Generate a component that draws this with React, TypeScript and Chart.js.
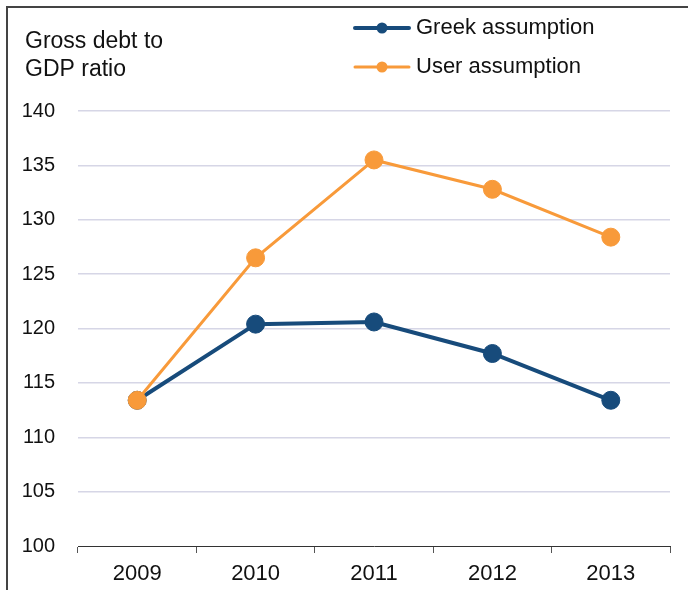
import React, { useEffect, useRef } from "react";
import { Chart, registerables } from "chart.js";

Chart.register(...registerables);

const years = ["2009", "2010", "2011", "2012", "2013"];
const greekAssumption = [113.4, 120.4, 120.6, 117.7, 113.4];
const userAssumption = [113.4, 126.5, 135.5, 132.8, 128.4];
const seriesNames = ["Greek assumption", "User assumption"];
const titleLines = ["Gross debt to", "GDP ratio"];
const yMin = 100;
const yMax = 140;
const yStep = 5;

const FONT = "'Liberation Sans', Arial, Helvetica, sans-serif";
const BLUE = "#174b7b";
const ORANGE = "#f89a3a";

const overlayPlugin = {
  id: "overlay",
  afterDraw(chart: any) {
    const ctx = chart.ctx as CanvasRenderingContext2D;
    ctx.save();
    // frame (top and left edges)
    ctx.strokeStyle = "#444444";
    ctx.lineWidth = 2;
    ctx.beginPath();
    ctx.moveTo(7, 590);
    ctx.lineTo(7, 7);
    ctx.lineTo(688, 7);
    ctx.stroke();

    // title
    ctx.fillStyle = "#111111";
    ctx.font = `23px ${FONT}`;
    ctx.textBaseline = "middle";
    ctx.textAlign = "left";
    titleLines.forEach((t, i) => ctx.fillText(t, 25, 42 + i * 28));

    // legend
    ctx.font = `22px ${FONT}`;
    const rowsY = [28, 67];
    chart.data.datasets.forEach((ds: any) => {
      const idx = seriesNames.indexOf(ds.label);
      const y = rowsY[idx];
      ctx.strokeStyle = ds.borderColor;
      ctx.lineWidth = ds.borderWidth;
      ctx.lineCap = "round";
      ctx.beginPath();
      ctx.moveTo(355, y);
      ctx.lineTo(409, y);
      ctx.stroke();
      ctx.fillStyle = ds.borderColor;
      ctx.beginPath();
      ctx.arc(382, y, 5.5, 0, Math.PI * 2);
      ctx.fill();
      ctx.fillStyle = "#111111";
      ctx.fillText(ds.label, 416, y);
    });
    ctx.restore();
  },
};

export default function App() {
  const ref = useRef<HTMLCanvasElement | null>(null);
  useEffect(() => {
    if (!ref.current) return;
    const chart = new Chart(ref.current, {
      type: "line",
      data: {
        labels: years,
        datasets: [
          {
            label: seriesNames[0],
            data: greekAssumption,
            borderColor: BLUE,
            backgroundColor: BLUE,
            pointBackgroundColor: BLUE,
            pointBorderColor: BLUE,
            borderWidth: 4,
            pointRadius: 9,
            pointBorderWidth: 1,
            order: 1,
          },
          {
            label: seriesNames[1],
            data: userAssumption,
            borderColor: ORANGE,
            backgroundColor: ORANGE,
            pointBackgroundColor: ORANGE,
            pointBorderColor: ORANGE,
            borderWidth: 3,
            pointRadius: 9,
            pointBorderWidth: 1,
            order: 0,
          },
        ],
      },
      options: {
        responsive: false,
        animation: false,
        devicePixelRatio: 1,
        layout: { padding: { left: 0, right: 18, top: 111, bottom: 0 } },
        plugins: {
          legend: { display: false },
          tooltip: { enabled: false },
          title: { display: false },
        },
        scales: {
          x: {
            type: "category",
            offset: true,
            grid: {
              offset: true,
              drawOnChartArea: false,
              drawTicks: true,
              tickLength: 7,
              color: "#555555",
            },
            border: { display: true, color: "#333333", width: 1 },
            ticks: {
              padding: 8,
              color: "#111111",
              font: { family: FONT, size: 22 },
              maxRotation: 0,
            },
            afterFit: (s: any) => {
              s.height = 44;
            },
          },
          y: {
            min: yMin,
            max: yMax,
            grid: {
              drawTicks: false,
              lineWidth: 1.5,
              color: (c: any) =>
                c.tick && c.tick.value === yMin ? "rgba(0,0,0,0)" : "#d6d6e6",
            },
            border: { display: false },
            ticks: {
              stepSize: yStep,
              padding: 23,
              color: "#111111",
              font: { family: FONT, size: 20 },
            },
            afterFit: (s: any) => {
              s.width = 78;
            },
          },
        },
      },
      plugins: [overlayPlugin],
    });
    return () => chart.destroy();
  }, []);

  return (
    <div style={{ position: "fixed", left: 0, top: 0, width: 688, height: 590, background: "#fff" }}>
      <canvas ref={ref} width={688} height={590} style={{ width: 688, height: 590, display: "block" }} />
    </div>
  );
}
